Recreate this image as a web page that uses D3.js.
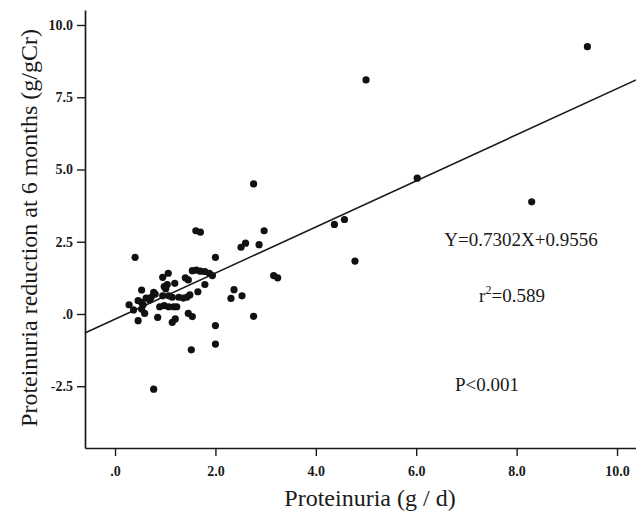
<!DOCTYPE html>
<html>
<head>
<meta charset="utf-8">
<script src="https://cdn.jsdelivr.net/npm/d3@7"></script>
<style>
  html, body { margin: 0; padding: 0; background: #fff; }
  svg { display: block; }
</style>
</head>
<body>
<svg id="chart" width="636" height="511"></svg>
<script>
// ---- data ----
const proteinuria = [2.76,1.61,1.70,2.97,2.87,2.51,2.60,0.40,2.00,0.95,1.06,1.54,1.62,1.70,1.79,1.88,1.94,1.40,1.46,1.19,1.79,0.98,1.04,1.01,0.53,0.77,0.80,1.65,1.49,1.43,1.36,0.62,0.69,0.72,0.46,0.53,0.56,0.28,0.95,1.07,1.14,1.27,0.89,0.98,1.07,1.17,1.23,0.37,0.53,0.59,0.85,0.46,1.46,1.54,1.14,1.20,2.76,2.37,2.31,2.53,2.00,2.00,1.52,0.77,3.16,3.24,5.00,9.41,6.02,8.30,4.37,4.57,4.78];
const reduction   = [4.50,2.88,2.83,2.88,2.40,2.31,2.45,1.96,1.96,1.27,1.41,1.50,1.52,1.48,1.47,1.41,1.33,1.25,1.18,1.06,1.02,0.95,1.02,0.87,0.83,0.75,0.69,0.77,0.66,0.58,0.55,0.55,0.48,0.58,0.46,0.40,0.32,0.32,0.63,0.63,0.58,0.58,0.25,0.29,0.25,0.25,0.25,0.14,0.17,0.02,-0.12,-0.23,0.02,-0.09,-0.29,-0.17,-0.08,0.84,0.54,0.63,-0.40,-1.04,-1.24,-2.60,1.33,1.25,8.10,9.25,4.70,3.88,3.10,3.27,1.83];
const fitX = [-0.6, 10.38];
const fitY = [-0.66, 8.10];
const xTicks = [0, 2, 4, 6, 8, 10];
const xTickLabels = [".0", "2.0", "4.0", "6.0", "8.0", "10.0"];
const yTicks = [-2.5, 0, 2.5, 5, 7.5, 10];
const yTickLabels = ["-2.5", ".0", "2.5", "5.0", "7.5", "10.0"];
const annotations = ["Y=0.7302X+0.9556", "r²=0.589", "P<0.001"];

// ---- drawing ----
const svg = d3.select("#chart");
const mLeft = 85, mRight = 636, mTop = 10, mBottom = 448;
const x = d3.scaleLinear().domain([-0.598, 10.378]).range([mLeft, mRight]);
const y = d3.scaleLinear().domain([-4.637, 10.519]).range([mBottom, mTop]);
const ink = "#1a1a1a";
const serif = "'Liberation Serif', 'Times New Roman', serif";

const xAxis = d3.axisBottom(x).tickValues(xTicks).tickSize(8).tickSizeOuter(0)
  .tickFormat((d, i) => xTickLabels[i]);
const yAxis = d3.axisLeft(y).tickValues(yTicks).tickSize(8).tickSizeOuter(0)
  .tickFormat((d, i) => yTickLabels[i]);

const gx = svg.append("g").attr("transform", `translate(0,${mBottom})`).call(xAxis);
const gy = svg.append("g").attr("transform", `translate(${mLeft},0)`).call(yAxis);
[gx, gy].forEach(g => {
  g.select(".domain").attr("stroke", ink).attr("stroke-width", 1.7);
  g.selectAll(".tick line").attr("stroke", ink).attr("stroke-width", 1.4);
  g.selectAll(".tick text").attr("fill", ink)
    .style("font-family", serif).style("font-weight", "bold").style("font-size", "14px");
});
gx.selectAll(".tick text").attr("dy", "1.2em");
gy.selectAll(".tick text").attr("dx", "-1px");

// regression line
svg.append("line")
  .attr("x1", x(fitX[0])).attr("y1", y(fitY[0]))
  .attr("x2", x(fitX[1])).attr("y2", y(fitY[1]))
  .attr("stroke", ink).attr("stroke-width", 1.6);

// points
svg.append("g").selectAll("circle")
  .data(proteinuria.map((v, i) => [v, reduction[i]]))
  .join("circle")
  .attr("cx", d => x(d[0])).attr("cy", d => y(d[1]))
  .attr("r", 3.6).attr("fill", "#111");

// axis titles
svg.append("text").attr("x", 370).attr("y", 506)
  .attr("text-anchor", "middle").style("font-family", serif).style("font-size", "24px")
  .attr("fill", ink).text("Proteinuria (g / d)");
svg.append("text").attr("transform", "translate(37,228) rotate(-90)")
  .attr("text-anchor", "middle").style("font-family", serif).style("font-size", "24px")
  .attr("fill", ink).text("Proteinuria reduction at 6 months (g/gCr)");

// annotations
const annPos = [[521, 246], [512, 302], [487, 391]];
annotations.forEach((t, i) => {
  const txt = svg.append("text").attr("x", annPos[i][0]).attr("y", annPos[i][1])
    .attr("text-anchor", "middle").style("font-family", serif).style("font-size", "19px")
    .attr("fill", ink);
  if (t.startsWith("r²")) {
    txt.append("tspan").text("r");
    txt.append("tspan").attr("dy", -8).style("font-size", "12px").text("2");
    txt.append("tspan").attr("dy", 8).text("=0.589");
  } else {
    txt.text(t);
  }
});
</script>
</body>
</html>
